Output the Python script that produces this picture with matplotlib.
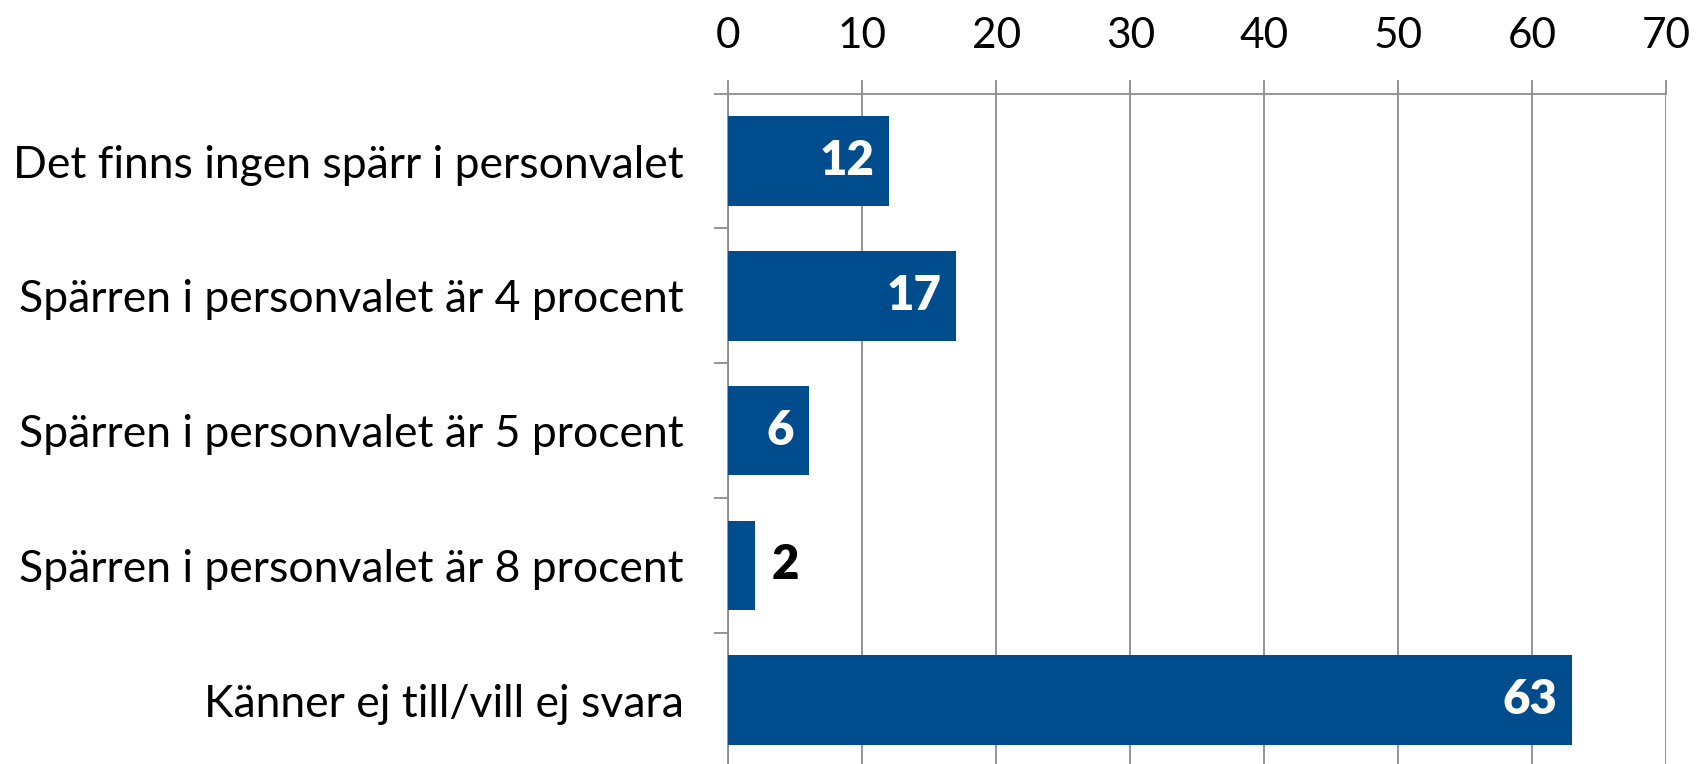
import matplotlib
matplotlib.use("Agg")
import matplotlib.pyplot as plt
import numpy as np

categories = [
    "Det finns ingen spärr i personvalet",
    "Spärren i personvalet är 4 procent",
    "Spärren i personvalet är 5 procent",
    "Spärren i personvalet är 8 procent",
    "Känner ej till/vill ej svara",
]
values = [12, 17, 6, 2, 63]
xticks = [0, 10, 20, 30, 40, 50, 60, 70]

plt.rcParams['font.family'] = ['Lato', 'DejaVu Sans']

W, H = 1708, 764
fig = plt.figure(figsize=(W / 100, H / 100), dpi=100)
left, right, top, bottom = 728.3, 1666.3, 93.7, 767.5
ax = fig.add_axes([left / W, 1 - bottom / H, (right - left) / W, (bottom - top) / H])

bar_color = "#004C8C"
grid_color = "#8C8C8C"
n = len(categories)
ypos = np.arange(n)
bars = ax.barh(ypos, values, height=0.663, color=bar_color, zorder=3)

ax.set_xlim(0, 70)
ax.set_ylim(n - 0.5, -0.5)
ax.xaxis.tick_top()
ax.set_xticks(xticks)
ax.set_xticklabels([str(t) for t in xticks], fontsize=30.5)
ax.tick_params(axis='x', which='major', direction='out', length=10, width=1.3,
               color=grid_color, pad=18, labelcolor='black')
ax.grid(axis='x', color=grid_color, linewidth=1.3, zorder=0)

ax.set_yticks(np.arange(-0.5, n, 1.0))
ax.set_yticklabels([])
ax.set_yticks(ypos, minor=True)
ax.set_yticklabels(categories, minor=True, fontsize=32)
ax.tick_params(axis='y', which='major', direction='out', length=10, width=1.3, color=grid_color)
ax.tick_params(axis='y', which='minor', length=0, pad=32)

for s in ['right', 'bottom']:
    ax.spines[s].set_visible(False)
for s in ['top', 'left']:
    ax.spines[s].set_color(grid_color)
    ax.spines[s].set_linewidth(1.3)

for y, v in zip(ypos, values):
    if v >= 5:
        ax.text(v - 1.1, y, str(v), ha='right', va='center', color='white',
                fontsize=34, fontweight='heavy', zorder=4)
    else:
        ax.text(v + 1.2, y, str(v), ha='left', va='center', color='black',
                fontsize=34, fontweight='heavy', zorder=4)

fig.savefig("out.png", dpi=100)
